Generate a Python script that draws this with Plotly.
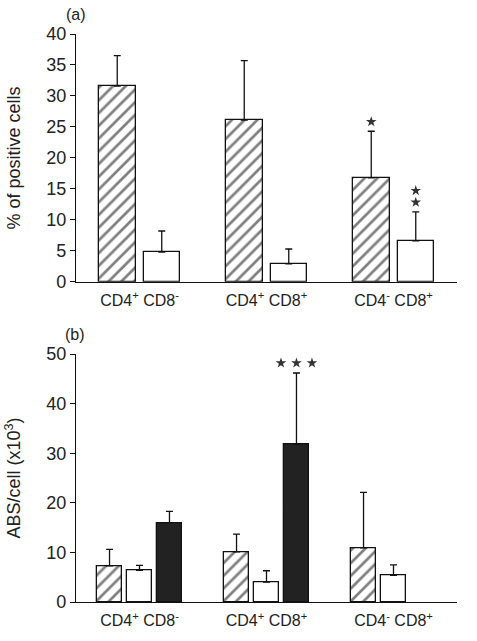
import plotly.graph_objects as go

groups = ["CD4<sup>+</sup> CD8<sup>-</sup>", "CD4<sup>+</sup> CD8<sup>+</sup>", "CD4<sup>-</sup> CD8<sup>+</sup>"]
group_pos = [0, 1, 2]

# panel (a): % of positive cells
a_hatched = [31.6, 26.1, 16.8]
a_hatched_err = [4.9, 9.6, 7.5]
a_white = [4.8, 2.9, 6.6]
a_white_err = [3.4, 2.4, 4.7]

# panel (b): ABS/cell (x10^3)
b_hatched = [7.3, 10.1, 10.9]
b_hatched_err = [3.3, 3.6, 11.2]
b_white = [6.4, 4.0, 5.4]
b_white_err = [1.0, 2.3, 2.1]
b_black = [16.0, 31.8, None]
b_black_err = [2.3, 14.4, None]

# significance marks: (panel, series, group index, number of stars, stacked vertically?)
stars = [("a", "hatched", 2, 1, True), ("a", "white", 2, 2, True), ("b", "black", 1, 3, False)]

FONT = "Liberation Sans, Arial, sans-serif"
TXT = "#222"

W, H = 477, 641
M = dict(l=76, r=20, t=34, b=39)
domA, domB = [0.5637, 1], [0, 0.4363]
rangeA, rangeB = [0, 40], [0, 50]
plot_h = H - M["t"] - M["b"]
plot_w = W - M["l"] - M["r"]
xrange_ = [-0.5, 2.5]
px_per_x = plot_w / (xrange_[1] - xrange_[0])
px_per_y = {"a": plot_h * (domA[1] - domA[0]) / (rangeA[1] - rangeA[0]),
            "b": plot_h * (domB[1] - domB[0]) / (rangeB[1] - rangeB[0])}

hatch = dict(shape="/", fgcolor="#000", bgcolor="white", size=9, solidity=0.3)

fig = go.Figure()

def err(arr):
    return dict(type="data", symmetric=False, array=arr,
                arrayminus=[0 if v is not None else None for v in arr],
                color="#111", thickness=1.3, width=3.5)

wA, offA = 0.2875, [-0.319, 0.0315]
fig.add_trace(go.Bar(x=group_pos, y=a_hatched, width=wA, offset=offA[0],
                     marker=dict(color="white", pattern=hatch, line=dict(color="#111", width=1.3)),
                     error_y=err(a_hatched_err), xaxis="x", yaxis="y", showlegend=False))
fig.add_trace(go.Bar(x=group_pos, y=a_white, width=wA, offset=offA[1],
                     marker=dict(color="white", line=dict(color="#111", width=1.3)),
                     error_y=err(a_white_err), xaxis="x", yaxis="y", showlegend=False))

wB, offB = 0.192, [-0.332, -0.096, 0.140]
fig.add_trace(go.Bar(x=group_pos, y=b_hatched, width=wB, offset=offB[0],
                     marker=dict(color="white", pattern=hatch, line=dict(color="#111", width=1.3)),
                     error_y=err(b_hatched_err), xaxis="x2", yaxis="y2", showlegend=False))
fig.add_trace(go.Bar(x=group_pos, y=b_white, width=wB, offset=offB[1],
                     marker=dict(color="white", line=dict(color="#111", width=1.3)),
                     error_y=err(b_white_err), xaxis="x2", yaxis="y2", showlegend=False))
fig.add_trace(go.Bar(x=group_pos, y=b_black, width=wB, offset=offB[2],
                     marker=dict(color="#222", line=dict(color="#111", width=1.3)),
                     error_y=err(b_black_err), xaxis="x2", yaxis="y2", showlegend=False))

series = {
    "a": {"hatched": (a_hatched, a_hatched_err, offA[0], wA), "white": (a_white, a_white_err, offA[1], wA)},
    "b": {"hatched": (b_hatched, b_hatched_err, offB[0], wB), "white": (b_white, b_white_err, offB[1], wB),
          "black": (b_black, b_black_err, offB[2], wB)},
}

for panel, name, gi, n, vertical in stars:
    vals, errs, off, w = series[panel][name]
    xc = group_pos[gi] + off + w / 2
    yt = vals[gi] + errs[gi]
    sx, sy = [], []
    for k in range(n):
        if vertical:
            sx.append(xc)
            sy.append(yt + (9.5 + 11.7 * k) / px_per_y[panel])
        else:
            sx.append(xc + (k - (n - 1) / 2) * 15.5 / px_per_x)
            sy.append(yt + 10 / px_per_y[panel])
    fig.add_trace(go.Scatter(x=sx, y=sy, mode="markers",
                             marker=dict(symbol="star", size=8, color="#333", line=dict(width=0)),
                             xaxis="x" if panel == "a" else "x2", yaxis="y" if panel == "a" else "y2",
                             showlegend=False, hoverinfo="skip"))

annotations = [
    dict(x=0, y=1.035, xref="paper", yref="paper", text="(a)", showarrow=False,
         font=dict(family=FONT, size=16, color=TXT), xanchor="center", yanchor="middle"),
    dict(x=-0.003, y=0.4716, xref="paper", yref="paper", text="(b)", showarrow=False,
         font=dict(family=FONT, size=16, color=TXT), xanchor="center", yanchor="middle"),
]

xcommon = dict(range=xrange_, tickvals=group_pos, ticktext=groups, showline=True, linecolor="#111",
               linewidth=1.3, ticks="outside", ticklen=4, tickcolor="rgba(0,0,0,0)", showgrid=False,
               zeroline=False, tickfont=dict(family=FONT, size=16, color=TXT), fixedrange=True)
ycommon = dict(showline=True, linecolor="#111", linewidth=1.3, ticks="outside", ticklen=5, tickwidth=1.3,
               tickcolor="#111", showgrid=False, zeroline=False,
               tickfont=dict(family=FONT, size=18, color=TXT))

fig.update_layout(
    width=W, height=H,
    margin=M,
    paper_bgcolor="white", plot_bgcolor="white",
    xaxis=dict(domain=[0, 1], anchor="y", **xcommon),
    yaxis=dict(domain=domA, anchor="x", range=rangeA, dtick=5,
               title=dict(text="% of positive cells", font=dict(family=FONT, size=18, color=TXT), standoff=20),
               **ycommon),
    xaxis2=dict(domain=[0, 1], anchor="y2", **xcommon),
    yaxis2=dict(domain=domB, anchor="x2", range=rangeB, dtick=10,
                title=dict(text="ABS/cell (x10<sup>3</sup>)", font=dict(family=FONT, size=18, color=TXT), standoff=20),
                **ycommon),
    annotations=annotations,
    bargap=0,
)

fig.write_html("out.html", config={"displayModeBar": False},
               post_script="document.body.style.margin='0';document.body.style.padding='0';")
